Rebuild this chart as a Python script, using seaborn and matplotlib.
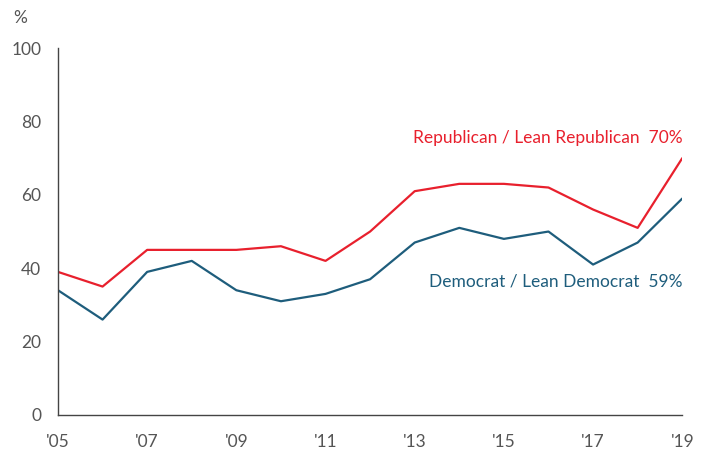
import matplotlib
matplotlib.use("Agg")
import matplotlib.pyplot as plt
import seaborn as sns
import pandas as pd

years = list(range(2005, 2020))
republican = [39, 35, 45, 45, 45, 46, 42, 50, 61, 63, 63, 62, 56, 51, 70]
democrat = [34, 26, 39, 42, 34, 31, 33, 37, 47, 51, 48, 50, 41, 47, 59]
xtick_years = [2005, 2007, 2009, 2011, 2013, 2015, 2017, 2019]
xtick_labels = ["'05", "'07", "'09", "'11", "'13", "'15", "'17", "'19"]
rep_label = "Republican / Lean Republican  70%"
dem_label = "Democrat / Lean Democrat  59%"

RED = "#E8202D"
BLUE = "#1E5D7C"
GRAY = "#555555"

sns.set_style("white")
plt.rcParams["font.family"] = ["Lato", "DejaVu Sans"]

df = pd.DataFrame({
    "year": years * 2,
    "value": republican + democrat,
    "party": ["Republican"] * len(years) + ["Democrat"] * len(years),
})

fig = plt.figure(figsize=(7.07, 4.54), dpi=100)
ax = fig.add_axes([0.082, 0.086, 0.883, 0.808])
sns.lineplot(data=df, x="year", y="value", hue="party",
             palette={"Republican": RED, "Democrat": BLUE},
             linewidth=1.6, legend=False, ax=ax)

ax.set_xlim(2005, 2019)
ax.set_ylim(0, 100)
ax.set_xticks(xtick_years)
ax.set_xticklabels(xtick_labels)
ax.set_yticks([0, 20, 40, 60, 80, 100])
ax.set_xlabel("")
ax.set_ylabel("")
for s in ["top", "right"]:
    ax.spines[s].set_visible(False)
for s in ["left", "bottom"]:
    ax.spines[s].set_color("#444444")
    ax.spines[s].set_linewidth(1.0)
ax.tick_params(axis="both", direction="out", length=6, width=1.0,
               color="#444444", labelcolor=GRAY, labelsize=12.5)
ax.tick_params(axis="x", pad=8)
ax.tick_params(axis="y", pad=6)

ax.text(2019, 75.5, rep_label, color=RED, fontsize=12.5, ha="right", va="center")
ax.text(2019, 36.5, dem_label, color=BLUE, fontsize=12.5, ha="right", va="center")
fig.text(20 / 707, 1 - 18 / 454, "%", color=GRAY, fontsize=12.5, ha="center", va="center")

fig.savefig("out.png", dpi=100)
